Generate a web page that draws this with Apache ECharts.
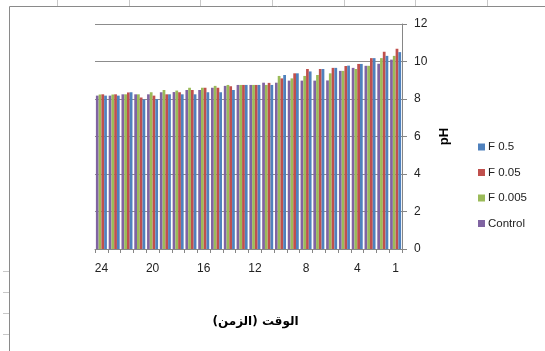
<!DOCTYPE html>
<html>
<head>
<meta charset="utf-8">
<script src="https://cdn.jsdelivr.net/npm/echarts@6/dist/echarts.min.js"></script>
<style>
  html, body { margin: 0; padding: 0; background: #fff; }
  #chart { width: 545px; height: 351px; }
</style>
</head>
<body>
<div id="chart"></div>
<script>
// categories, left to right (24 ... 1)
const times = ['24','23','22','21','20','19','18','17','16','15','14','13',
               '12','11','10','9','8','7','6','5','4','3','2','1'];

const phF05 = [8.18, 8.18, 8.36, 7.98, 8.0, 8.25, 8.25, 8.25, 8.36, 8.36, 8.48, 8.75,
               8.75, 8.75, 9.28, 9.37, 9.47, 9.6, 9.66, 9.78, 9.87, 10.18, 10.3, 10.5];
const phF005 = [8.25, 8.25, 8.35, 8.08, 8.18, 8.25, 8.36, 8.48, 8.6, 8.6, 8.68, 8.75,
                8.75, 8.86, 9.1, 9.37, 9.6, 9.6, 9.66, 9.76, 9.87, 10.18, 10.52, 10.68];
const phF0005 = [8.24, 8.24, 8.25, 8.25, 8.36, 8.48, 8.45, 8.6, 8.6, 8.7, 8.75, 8.75,
                 8.75, 8.75, 9.23, 9.1, 9.23, 9.28, 9.37, 9.5, 9.6, 9.77, 10.18, 10.3];
const phControl = [8.18, 8.18, 8.25, 8.25, 8.25, 8.36, 8.37, 8.48, 8.48, 8.6, 8.7, 8.75,
                   8.75, 8.87, 8.87, 8.98, 8.98, 8.98, 8.99, 9.5, 9.66, 9.77, 9.88, 10.1];

const legendOrder = ['F 0.5', 'F 0.05', 'F 0.005', 'Control'];

const myChart = echarts.init(document.getElementById('chart'), null, { renderer: 'canvas' });

// sheet decorations (chart frame + cell ticks)
const deco = [
  { type: 'rect', shape: { x: 9.5, y: 6.5, width: 600, height: 400 },
    style: { fill: 'none', stroke: '#8a8a8a', lineWidth: 1 }, silent: true }
];
[57, 129, 200, 272, 344, 415, 487].forEach(x => {
  deco.push({ type: 'line', shape: { x1: x + 0.5, y1: 0, x2: x + 0.5, y2: 6 },
    style: { stroke: '#c8c8c8', lineWidth: 1 }, silent: true });
});
[271, 292, 313, 334].forEach(y => {
  deco.push({ type: 'line', shape: { x1: 3, y1: y + 0.5, x2: 9, y2: y + 0.5 },
    style: { stroke: '#c8c8c8', lineWidth: 1 }, silent: true });
});

const barSeries = (name, data, color) => ({
  name: name,
  type: 'bar',
  data: data,
  barGap: '0%',
  barCategoryGap: '14%',
  itemStyle: { color: color },
  animation: false
});

const option = {
  animation: false,
  textStyle: { fontFamily: 'Liberation Sans' },
  graphic: deco,
  grid: { left: 95, right: 143, top: 24, bottom: 102 },
  legend: {
    orient: 'vertical',
    left: 473,
    top: 135,
    data: legendOrder,
    itemWidth: 7,
    itemHeight: 7,
    itemGap: 11.5,
    icon: 'rect',
    textStyle: { fontSize: 11.5, color: '#222', lineHeight: 14, padding: [0, 0, 0, -2] }
  },
  xAxis: {
    type: 'category',
    data: times,
    name: 'الوقت (الزمن)',
    nameLocation: 'middle',
    nameGap: 67,
    nameTextStyle: { fontFamily: 'DejaVu Sans', fontWeight: 'bold', fontSize: 12,
                     color: '#000', padding: [0, 0, 0, 14] },
    axisLine: { lineStyle: { color: '#868686' } },
    axisTick: { show: true, interval: 0, length: 4, alignWithLabel: false,
                lineStyle: { color: '#868686' } },
    axisLabel: {
      interval: (idx) => idx % 4 === 0 || idx === times.length - 1,
      margin: 14,
      fontSize: 12,
      color: '#222'
    }
  },
  yAxis: {
    type: 'value',
    position: 'right',
    min: 0,
    max: 12,
    interval: 2,
    name: 'pH',
    nameLocation: 'middle',
    nameRotate: 90,
    nameGap: 33,
    nameTextStyle: { fontWeight: 'bold', fontSize: 13, color: '#000' },
    axisLine: { show: true, lineStyle: { color: '#868686' } },
    axisTick: { show: true, length: 5, lineStyle: { color: '#868686' } },
    axisLabel: { margin: 12, fontSize: 12, color: '#222' },
    splitLine: { show: true, lineStyle: { color: '#8c8c8c', width: 1 } }
  },
  // left-to-right in each group: Control, F 0.005, F 0.05, F 0.5
  series: [
    barSeries('Control', phControl, '#8064A2'),
    barSeries('F 0.005', phF0005, '#9BBB59'),
    barSeries('F 0.05', phF005, '#C0504D'),
    barSeries('F 0.5', phF05, '#4F81BD')
  ]
};

myChart.setOption(option);
</script>
</body>
</html>
